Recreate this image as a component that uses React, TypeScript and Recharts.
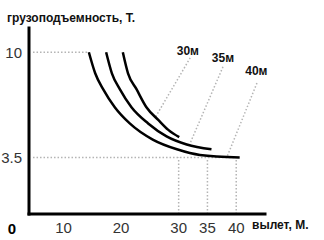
import { LineChart, Line, XAxis, YAxis, ReferenceLine, ReferenceDot, Label } from "recharts";

// вылет (m) / грузоподъемность (t) for each boom length
const reach30 = [20.3, 21.2, 22.7, 24.4, 26.5, 28.2, 30.1];
const load30 = [10, 8.7, 7.7, 6.6, 5.8, 5.2, 4.75];
const reach35 = [17.4, 18.4, 19.8, 21.8, 24.7, 27.9, 31.4, 35.7];
const load35 = [10, 8.7, 7.7, 6.6, 5.6, 4.8, 4.3, 4.0];
const reach40 = [14.4, 15.5, 16.9, 18.9, 21.5, 25.5, 29.7, 33.7, 40.6];
const load40 = [10, 8.7, 7.7, 6.6, 5.6, 4.6, 4.0, 3.65, 3.5];

const xTicks = [10, 20, 30, 35, 40];
const yTicks = [0, 3.5, 10];
const markReach = [30, 35, 40];

const boomNames = ["30м", "35м", "40м"];
const namePos = [
  { x: 31.6, y: 10.1 },
  { x: 37.7, y: 9.65 },
  { x: 43.5, y: 8.85 },
];
const leaders = [
  [{ x: 32, y: 9.65 }, { x: 25.9, y: 5.95 }],
  [{ x: 37.7, y: 9.1 }, { x: 31.9, y: 4.3 }],
  [{ x: 43.6, y: 8.1 }, { x: 38.4, y: 3.53 }],
];

const zip = (xs: number[], ys: number[]) => xs.map((x, i) => ({ x, y: ys[i] }));
const curves = [zip(reach30, load30), zip(reach35, load35), zip(reach40, load40)];

const dotted = { stroke: "#b4b4b4", strokeWidth: 1.5, strokeDasharray: "1.5 2" };
const font = "'Liberation Sans', Arial, sans-serif";

const YTick = (p: any) => {
  const v = p.payload.value;
  if (v === 0) {
    return (
      <text x={p.x - 6} y={p.y + 14} textAnchor="end" dominantBaseline="central" fontSize={15} fontWeight="bold" fill="#000" fontFamily={font}>
        0
      </text>
    );
  }
  return (
    <text x={p.x} y={p.y} textAnchor="end" dominantBaseline="central" fontSize={15} fill="#333" fontFamily={font}>
      {v}
    </text>
  );
};

export default function App() {
  return (
    <div style={{ position: "absolute", left: 0, top: 0, width: 324, height: 240, background: "#fff" }}>
      <LineChart width={324} height={240} margin={{ top: 28, right: 59, bottom: 0, left: 0 }}>
        <XAxis
          type="number"
          dataKey="x"
          domain={[4, 45]}
          ticks={xTicks}
          allowDataOverflow
          tickLine={false}
          tickSize={6}
          tickMargin={2}
          height={26}
          axisLine={{ stroke: "#000", strokeWidth: 3, strokeLinecap: "square" }}
          tick={{ fontSize: 15, fill: "#333", fontFamily: font }}
        >
          <Label
            content={() => (
              <text x={252} y={229} fontSize={12} fontWeight="bold" fill="#111" fontFamily={font}>
                вылет, М.
              </text>
            )}
          />
        </XAxis>
        <YAxis
          type="number"
          domain={[0, 11.5]}
          ticks={yTicks}
          allowDataOverflow
          width={29}
          tickLine={false}
          tickSize={5}
          tickMargin={2}
          axisLine={{ stroke: "#000", strokeWidth: 3, strokeLinecap: "square" }}
          tick={<YTick />}
        >
          <Label
            content={() => (
              <text x={7} y={22} fontSize={12} fontWeight="bold" fill="#111" fontFamily={font}>
                грузоподъемность, Т.
              </text>
            )}
          />
        </YAxis>

        <ReferenceLine segment={[{ x: 4.7, y: 10 }, { x: 14.4, y: 10 }]} {...dotted} />
        <ReferenceLine segment={[{ x: 4.7, y: 3.5 }, { x: 40, y: 3.5 }]} {...dotted} />
        {markReach.map((r) => (
          <ReferenceLine key={r} segment={[{ x: r, y: 0 }, { x: r, y: 3.5 }]} {...dotted} />
        ))}
        {leaders.map((seg, i) => (
          <ReferenceLine key={"l" + i} segment={seg} {...dotted} />
        ))}

        {curves.map((c, i) => (
          <Line
            key={i}
            data={c}
            dataKey="y"
            type="monotone"
            stroke="#000"
            strokeWidth={2.5}
            dot={false}
            activeDot={false}
            isAnimationActive={false}
          />
        ))}

        {namePos.map((p, i) => (
          <ReferenceDot
            key={"n" + i}
            x={p.x}
            y={p.y}
            shape={(s: any) => (
              <text x={s.cx} y={s.cy} textAnchor="middle" dominantBaseline="central" fontSize={12} fontWeight="bold" fill="#111" fontFamily={font}>
                {boomNames[i]}
              </text>
            )}
          />
        ))}
      </LineChart>
    </div>
  );
}
